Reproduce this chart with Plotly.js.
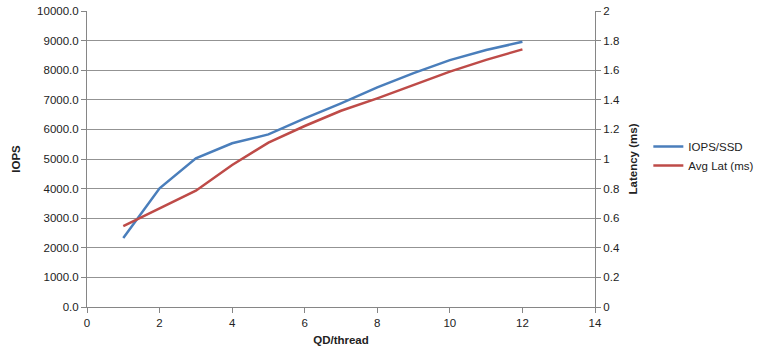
<!DOCTYPE html>
<html><head><meta charset="utf-8">
<script src="https://cdn.plot.ly/plotly-3.0.1.min.js"></script>
<style>body{margin:0;background:#fff}#c{width:768px;height:360px}</style>
</head><body><div id="c"></div>
<script>
const qd = [1,2,3,4,5,6,7,8,9,10,11,12];
const iops = [2330,4010,5020,5530,5830,6370,6880,7420,7900,8340,8680,8960];
const lat = [0.547,0.667,0.786,0.96,1.11,1.223,1.326,1.41,1.50,1.59,1.67,1.741];
const seriesNames = ['IOPS/SSD','Avg Lat (ms)'];
const fam = 'Liberation Sans, Arial, sans-serif';
const fnt = {family:fam, size:11.5, color:'#222'};
const traces = [
 {x:qd, y:iops, name:seriesNames[0], type:'scatter', mode:'lines', line:{color:'#4a7ebb', width:2.5}, yaxis:'y'},
 {x:qd, y:lat, name:seriesNames[1], type:'scatter', mode:'lines', line:{color:'#be4b48', width:2.5}, yaxis:'y2'}
];
const layout = {
 width:768, height:360, margin:{l:87, r:173, t:11, b:53, autoexpand:false},
 paper_bgcolor:'#fff', plot_bgcolor:'#fff', font:fnt, showlegend:true,
 xaxis:{range:[0,14], dtick:2, tick0:0, showgrid:false, zeroline:false, showline:true, linecolor:'#868686', linewidth:1,
   ticks:'outside', ticklen:5, tickcolor:'#868686',
   title:{text:'<b>QD/thread</b>', font:{family:fam,size:11.5,color:'#222'}, standoff:8}},
 yaxis:{range:[0,10000], dtick:1000, tickformat:'.1f', showgrid:true, gridcolor:'#939393', gridwidth:1, zeroline:false,
   showline:true, linecolor:'#868686', ticks:'outside', ticklen:5, tickcolor:'#868686',
   title:{text:'<b>IOPS</b>', font:{family:fam,size:11.5,color:'#222'}, standoff:14}},
 yaxis2:{range:[0,2], dtick:0.2, overlaying:'y', side:'right', showgrid:false, zeroline:false,
   showline:true, linecolor:'#868686', ticks:'outside', ticklen:5, tickcolor:'#868686',
   title:{text:'<b>Latency (ms)</b>', font:{family:fam,size:11.5,color:'#222'}, standoff:10}},
 legend:{x:1.105, y:0.51, xanchor:'left', yanchor:'middle', font:{family:fam,size:11.5,color:'#222'}, bgcolor:'rgba(0,0,0,0)', itemwidth:30, tracegroupgap:4}
};
Plotly.newPlot('c', traces, layout, {displayModeBar:false, staticPlot:true});
</script></body></html>
